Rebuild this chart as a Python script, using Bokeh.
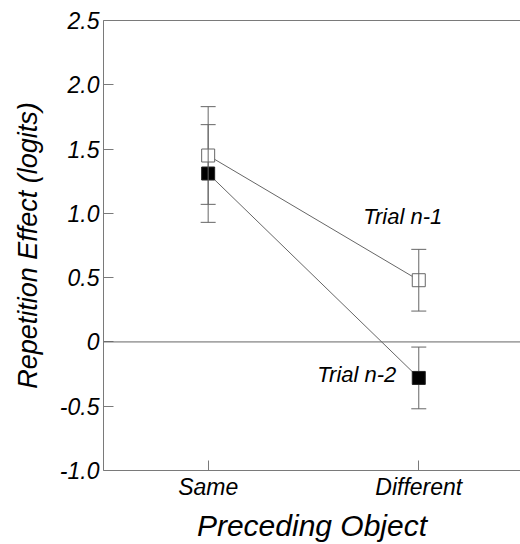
from bokeh.plotting import figure
from bokeh.models import (LinearAxis, FixedTicker, Whisker, ColumnDataSource, Label, Span, TeeHead)
from bokeh.embed import file_html
from bokeh.resources import INLINE

categories = ["Same", "Different"]
n1_mean = [1.45, 0.48]
n1_err = [0.38, 0.24]
n2_mean = [1.31, -0.28]
n2_err = [0.38, 0.24]
y_ticks = [-1.0, -0.5, 0.0, 0.5, 1.0, 1.5, 2.0, 2.5]
y_tick_labels = ["-1.0", "-0.5", "0", "0.5", "1.0", "1.5", "2.0", "2.5"]

xs = list(range(1, len(categories) + 1))
FONT = "Liberation Sans"
AX = "#7a7a7a"
LN = "#666666"

p = figure(width=520, height=544, x_range=(0.503, 2.483), y_range=(-1.0, 2.5),
           output_backend="svg", toolbar_location=None,
           min_border_left=103, min_border_right=0, min_border_top=20, min_border_bottom=72)
p.outline_line_color = None
p.xgrid.visible = False
p.ygrid.visible = False

for ax in (p.xaxis[0], p.yaxis[0]):
    ax.axis_line_color = AX
    ax.major_tick_line_color = AX
    ax.major_tick_in = 10
    ax.major_tick_out = 0
    ax.minor_tick_line_color = None
    ax.major_label_text_font = FONT
    ax.major_label_text_font_style = "italic"
    ax.major_label_text_color = "black"
    ax.axis_label_text_font = FONT
    ax.axis_label_text_font_style = "italic"
    ax.axis_label_text_color = "black"

p.yaxis.ticker = FixedTicker(ticks=y_ticks)
p.yaxis.major_label_overrides = dict(zip(y_ticks, y_tick_labels))
p.yaxis.major_label_text_font_size = "23px"
p.yaxis.major_label_standoff = 4
p.yaxis.axis_label = "Repetition Effect (logits)"
p.yaxis.axis_label_text_font_size = "27px"
p.yaxis.axis_label_standoff = 14

p.xaxis.ticker = FixedTicker(ticks=xs)
p.xaxis.major_label_overrides = dict(zip(xs, categories))
p.xaxis.major_label_text_font_size = "23px"
p.xaxis.major_label_standoff = 3
p.xaxis.axis_label = "Preceding Object"
p.xaxis.axis_label_text_font_size = "30px"
p.xaxis.axis_label_standoff = 6

top = LinearAxis(ticker=FixedTicker(ticks=[]), axis_line_color=AX,
                 major_tick_line_color=None, minor_tick_line_color=None,
                 major_label_text_font_size="0px")
p.add_layout(top, "above")

p.add_layout(Span(location=0, dimension="width", line_color=LN, line_width=1))

def series(mean, err, level):
    src = ColumnDataSource(dict(x=xs, y=mean,
                                lo=[m - e for m, e in zip(mean, err)],
                                hi=[m + e for m, e in zip(mean, err)]))
    w = Whisker(base="x", lower="lo", upper="hi", source=src, line_color=LN,
                line_width=1, level=level,
                upper_head=TeeHead(size=15, line_color=LN),
                lower_head=TeeHead(size=15, line_color=LN))
    p.add_layout(w)
    return src

s1 = series(n1_mean, n1_err, "overlay")
s2 = series(n2_mean, n2_err, "underlay")
p.line("x", "y", source=s1, line_color=LN, line_width=1)
p.line("x", "y", source=s2, line_color=LN, line_width=1)
p.scatter("x", "y", source=s1, marker="square", size=13, fill_color="white", line_color=LN)
p.scatter("x", "y", source=s2, marker="square", size=13, fill_color="black", line_color="#222222")

p.add_layout(Label(x=1.736, y=0.882, text="Trial n-1", text_font=FONT, text_font_style="italic",
                   text_font_size="22px", text_color="black"))
p.add_layout(Label(x=1.518, y=-0.349, text="Trial n-2", text_font=FONT, text_font_style="italic",
                   text_font_size="22px", text_color="black"))

open("out.html", "w").write(file_html(p, INLINE))
